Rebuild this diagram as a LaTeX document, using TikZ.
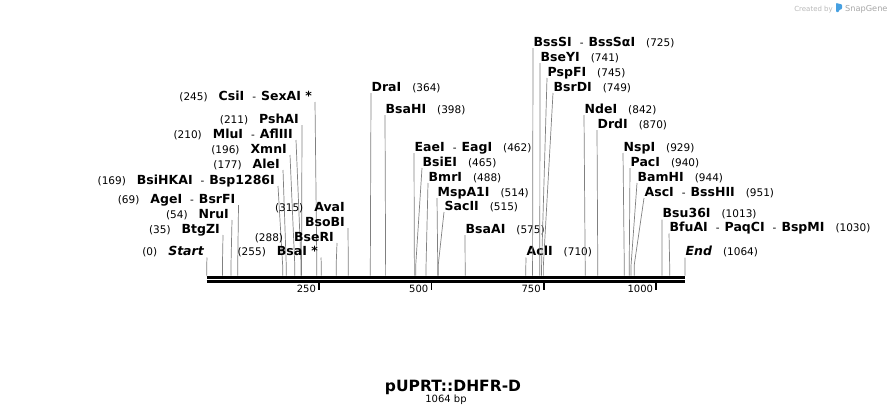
\documentclass[tikz,border=0pt]{standalone}
\usepackage{fontspec}
\setmainfont{DejaVu Sans}
\usetikzlibrary{calc, positioning}
\definecolor{snapBlue}{RGB}{70,160,225}
\tikzset{
    siteL/.style={anchor=south east, inner xsep=3pt, inner ysep=0pt, text depth=1.5pt, font=\fontsize{10.5}{12}\selectfont},
    siteR/.style={anchor=south west, inner xsep=0.5pt, inner ysep=0pt, text depth=1.5pt, font=\fontsize{10.5}{12}\selectfont},
    cutLine/.style={draw=black!50, line width=0.7pt},
    backbone/.style={line width=3pt},
    tickMark/.style={line width=1.8pt},
    tickLbl/.style={anchor=east, inner sep=0pt, font=\fontsize{10}{12}\selectfont},
}
\newcommand{\nm}[1]{{\fontsize{12.5}{13}\selectfont\bfseries #1}}
\newcommand{\nmi}[1]{{\fontsize{12.5}{13}\selectfont\bfseries\itshape #1}}
\newcommand{\gap}{\hspace{11pt}}
\newcommand{\dsh}{\hspace{8pt}-\hspace{5pt}}
\newcommand{\bpx}[1]{206.7+0.4495*#1}
\newcommand{\siteLeft}[5]{
    \coordinate (#1) at ({\bpx{#2}},275.5);
    \node[siteL] (#1Lbl) at (#3,#4) {#5};
    \draw[cutLine] (#1Lbl.south east) -- ([yshift=10pt]#1) -- (#1);
}
\newcommand{\siteRight}[5]{
    \coordinate (#1) at ({\bpx{#2}},275.5);
    \node[siteR] (#1Lbl) at (#3,#4) {#5};
    \draw[cutLine] (#1Lbl.south west) -- ([yshift=10pt]#1) -- (#1);
}

\begin{document}
\begin{tikzpicture}[x=1pt, y=-1pt]
    \useasboundingbox (0,0) rectangle (893,415);

    \siteLeft{start}{0}{207}{257.5}{(0)\gap\nmi{Start}}
    \siteLeft{btgz}{35}{223}{235}{(35)\gap\nm{BtgZI}}
    \siteLeft{nru}{54}{232}{220}{(54)\gap\nm{NruI}}
    \siteLeft{age}{69}{238.5}{205}{(69)\gap\nm{AgeI}\dsh\nm{BsrFI}}
    \siteLeft{bsihka}{169}{278}{186}{(169)\gap\nm{BsiHKAI}\dsh\nm{Bsp1286I}}
    \siteLeft{ale}{177}{283}{170}{(177)\gap\nm{AleI}}
    \siteLeft{xmn}{196}{290}{155}{(196)\gap\nm{XmnI}}
    \siteLeft{mlu}{210}{296}{140}{(210)\gap\nm{MluI}\dsh\nm{AflIII}}
    \siteLeft{psha}{211}{302}{125}{(211)\gap\nm{PshAI}}
    \siteLeft{csi}{245}{315}{102}{(245)\gap\nm{CsiI}\dsh\nm{SexAI *}}
    \siteLeft{bsa}{255}{321}{257.5}{(255)\gap\nm{BsaI *}}
    \siteLeft{bser}{288}{337}{243}{(288)\gap\nm{BseRI}}
    \siteLeft{bsob}{315}{348}{228}{\nm{BsoBI}}
    \node[siteL] (avaLbl) at ($(bsobLbl.south east)+(0,-15)$) {(315)\gap\nm{AvaI}};

    \siteRight{dra}{364}{371}{93}{\nm{DraI}\gap(364)}
    \siteRight{bsah}{398}{385}{115}{\nm{BsaHI}\gap(398)}
    \siteRight{eae}{462}{414}{153}{\nm{EaeI}\dsh\nm{EagI}\gap(462)}
    \siteRight{bsie}{465}{422}{168}{\nm{BsiEI}\gap(465)}
    \siteRight{bmr}{488}{428}{183}{\nm{BmrI}\gap(488)}
    \siteRight{mspa}{514}{437}{198}{\nm{MspA1I}\gap(514)}
    \siteRight{sac}{515}{444}{212}{\nm{SacII}\gap(515)}
    \siteRight{bsaa}{575}{465}{235}{\nm{BsaAI}\gap(575)}
    \siteRight{acl}{710}{526}{257.5}{\nm{AclI}\gap(710)}
    \siteRight{bsss}{725}{533}{48}{\nm{BssSI}\dsh\nm{BssSαI}\gap(725)}
    \siteRight{bsey}{741}{540}{63}{\nm{BseYI}\gap(741)}
    \siteRight{pspf}{745}{547}{78}{\nm{PspFI}\gap(745)}
    \siteRight{bsrd}{749}{553}{93}{\nm{BsrDI}\gap(749)}
    \siteRight{nde}{842}{584}{115}{\nm{NdeI}\gap(842)}
    \siteRight{drd}{870}{597}{130}{\nm{DrdI}\gap(870)}
    \siteRight{nsp}{929}{623}{153}{\nm{NspI}\gap(929)}
    \siteRight{pac}{940}{630}{168}{\nm{PacI}\gap(940)}
    \siteRight{bamh}{944}{637}{183}{\nm{BamHI}\gap(944)}
    \siteRight{asc}{951}{644}{198}{\nm{AscI}\dsh\nm{BssHII}\gap(951)}
    \siteRight{bsu}{1013}{662}{219.5}{\nm{Bsu36I}\gap(1013)}
    \siteRight{bfua}{1030}{669}{233.5}{\nm{BfuAI}\dsh\nm{PaqCI}\dsh\nm{BspMI}\gap(1030)}
    \siteRight{end}{1064}{685}{257.5}{\nmi{End}\gap(1064)}

    % backbone
    \draw[backbone] ([yshift=-1.5pt]start) -- ([yshift=-1.5pt]end);
    \draw[backbone] ([yshift=-6.2pt]start) -- ([yshift=-6.2pt]end);
    \foreach \t in {250,500,750,1000} {
        \draw[tickMark] ({\bpx{\t}},282) -- ({\bpx{\t}},290);
        \node[tickLbl] (tick\t) at ({\bpx{\t}-3},289) {\t};
    }

    \node[anchor=base, inner sep=0pt, font=\fontsize{15.5}{18}\selectfont\bfseries] (title) at (453,391) {pUPRT::DHFR-D};
    \node[anchor=base, inner sep=0pt, font=\fontsize{10}{12}\selectfont] (size) at (446,402.5) {1064 bp};

    \node[anchor=base east, inner sep=0pt, text=black!28, font=\fontsize{7}{8}\selectfont] (credit) at (833,11) {Created by};
    \fill[snapBlue, rounded corners=0.8pt] (836,12) -- (836,3) -- (842,4.5) -- (842,9) -- (839,10) -- (839,12) -- cycle;
    \node[anchor=base west, inner sep=0pt, text=black!35, font=\fontsize{8.2}{10}\selectfont] (brand) at (845,11.5) {SnapGene};
\end{tikzpicture}
\end{document}
